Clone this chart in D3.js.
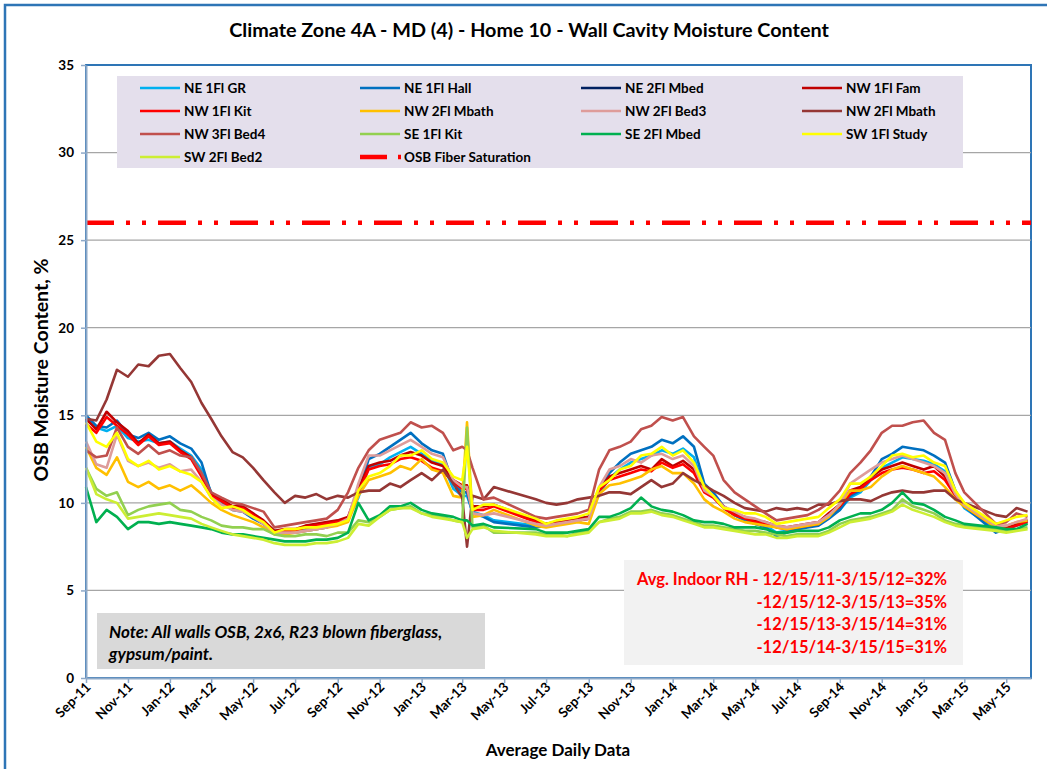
<!DOCTYPE html>
<html>
<head>
<meta charset="utf-8">
<script src="https://cdn.jsdelivr.net/npm/d3@7"></script>
<style>
  body { margin: 0; background: #fff; }
  svg text { font-family: Lato, "Open Sans", sans-serif; font-weight: bold; }
</style>
</head>
<body>
<div id="chart"></div>
<script>

// reading dates (about every half month, logger gaps spring 2013 and spring 2015)
var dates = [
  "2011-09-01","2011-09-16","2011-10-01","2011-10-16","2011-11-01","2011-11-16","2011-12-01","2011-12-16",
  "2012-01-01","2012-01-16","2012-02-01","2012-02-16","2012-03-01","2012-03-16","2012-04-01","2012-04-16",
  "2012-05-01","2012-05-16","2012-06-01","2012-06-16","2012-07-01","2012-07-16","2012-08-01","2012-08-16",
  "2012-09-01","2012-09-16","2012-10-01","2012-10-16","2012-11-01","2012-11-16","2012-12-01","2012-12-16",
  "2013-01-01","2013-01-16","2013-02-01","2013-02-16","2013-03-01","2013-03-08","2013-03-16","2013-04-01","2013-04-16",
  "2013-06-16","2013-07-01","2013-07-16","2013-08-01","2013-08-16",
  "2013-09-01","2013-09-16","2013-10-01","2013-10-16","2013-11-01","2013-11-16","2013-12-01","2013-12-16",
  "2014-01-01","2014-01-16","2014-02-01","2014-02-16","2014-03-01","2014-03-16","2014-04-01","2014-04-16",
  "2014-05-01","2014-05-16","2014-06-01","2014-06-16","2014-07-01","2014-07-16","2014-08-01","2014-08-16",
  "2014-09-01","2014-09-16","2014-10-01","2014-10-16","2014-11-01","2014-11-16","2014-12-01","2014-12-16",
  "2015-01-01","2015-01-16","2015-02-01","2015-02-16","2015-03-01",
  "2015-04-16","2015-05-01","2015-05-16","2015-06-01"
];

// moisture content, %
var ne1flGR = [
  14.9,14.3,14.1,14.4,13.7,13.5,13.6,13.4,13.5,13.1,12.7,11.9,10.6,10.1,9.7,9.6,9.2,8.9,8.4,8.4,8.4,8.5,8.6,8.7,8.9,9.1,10.3,
  12.0,12.2,12.6,12.9,13.2,12.8,12.4,12.2,10.8,10.4,10.4,9.5,9.3,9.0,
  8.7,8.8,8.9,9.0,9.1,9.2,10.5,11.4,11.9,12.3,
  12.5,12.7,13.0,12.8,13.1,12.6,10.8,10.4,9.7,9.3,
  9.0,8.8,8.7,8.3,8.4,8.6,8.7,8.8,9.2,9.6,
  10.3,10.6,11.3,12.0,12.3,12.6,12.5,12.4,12.2,11.8,10.5,9.7,
  8.5,8.6,8.8,9.0];
var ne1flHall = [
  15.0,14.4,14.3,14.7,13.9,13.7,14.0,13.6,13.8,13.4,13.1,12.3,10.5,10.0,9.6,9.5,9.1,8.8,8.3,8.3,8.3,8.4,8.5,8.6,8.8,9.0,10.6,
  12.5,12.8,13.2,13.6,14.0,13.4,13.0,12.8,11.1,10.6,10.6,9.4,9.2,8.9,
  8.6,8.7,8.8,8.9,9.0,9.1,10.6,11.7,12.3,12.8,
  13.0,13.2,13.6,13.4,13.8,13.2,11.1,10.6,9.8,9.3,
  9.0,8.8,8.6,8.1,8.3,8.5,8.6,8.7,9.1,9.6,
  10.4,10.7,11.5,12.5,12.8,13.2,13.1,13.0,12.7,12.3,10.7,9.8,
  8.3,8.5,8.7,8.9];
var ne2flMbed = []; // listed in the legend, no trace visible
var nw1flFam = [
  14.8,14.2,15.2,14.6,14.1,13.4,13.9,13.4,13.5,13.0,12.6,11.6,10.5,10.2,9.8,9.8,9.4,9.0,8.4,8.5,8.5,8.7,8.8,8.9,9.0,9.2,10.8,
  12.1,12.3,12.4,12.7,12.9,12.7,12.3,12.1,11.3,11.0,11.0,9.8,9.8,9.9,
  9.0,8.8,8.9,9.0,9.1,9.2,10.8,11.5,11.7,11.9,
  12.1,11.9,12.5,12.1,12.4,11.9,10.7,10.4,9.8,9.4,
  9.2,9.0,8.9,8.7,8.6,8.7,8.8,8.9,9.4,9.9,
  10.7,10.9,11.5,11.9,12.1,12.3,12.1,11.9,12.1,11.5,10.5,9.9,
  8.7,8.6,8.8,9.0];
var nw1flKit = [
  14.5,14.0,14.9,14.4,13.9,13.3,13.8,13.3,13.4,12.9,12.5,11.5,10.4,10.1,9.7,9.7,9.3,8.9,8.3,8.4,8.4,8.6,8.7,8.8,8.9,9.1,10.6,
  11.9,12.1,12.2,12.5,12.6,12.4,12.0,11.8,11.2,10.8,10.8,9.6,9.6,9.8,
  8.9,8.7,8.8,8.9,9.0,9.1,10.7,11.3,11.5,11.7,
  11.9,11.8,12.3,12.0,12.2,11.7,10.6,10.3,9.7,9.3,
  9.1,8.9,8.8,8.6,8.5,8.6,8.7,8.8,9.3,9.8,
  10.5,10.8,11.3,11.7,11.9,12.0,11.9,11.7,11.8,11.3,10.4,9.8,
  8.6,8.5,8.7,8.9];
var nw2flMbathA = [
  13.2,12.0,11.6,12.6,11.2,10.9,11.2,10.8,11.0,10.7,11.0,10.5,10.0,9.6,9.3,9.1,8.9,8.6,8.2,8.2,8.3,8.4,8.5,8.6,8.7,8.9,10.4,
  11.3,11.5,11.7,12.1,11.9,12.5,11.9,11.7,10.4,10.3,14.6,9.2,9.3,9.6,
  8.7,8.6,8.7,8.8,8.9,8.8,10.5,11.0,11.1,11.3,
  11.5,11.9,12.1,11.7,11.7,11.1,10.2,9.8,9.5,9.1,
  8.9,8.8,8.7,8.6,8.5,8.6,8.7,8.8,9.2,9.9,
  10.7,10.7,10.9,11.5,11.9,12.1,11.9,11.7,11.5,10.9,10.2,9.8,
  8.6,8.7,8.9,9.0];
var nw2flBed3 = [
  13.5,12.2,12.0,13.9,12.4,12.1,12.3,12.0,12.2,11.8,11.9,11.2,10.3,9.9,9.6,9.5,9.2,8.8,8.3,8.3,8.3,8.4,8.5,8.6,8.8,9.1,11.1,
  12.7,12.7,13.0,13.3,13.6,13.2,12.8,12.6,11.3,10.9,10.9,9.4,9.3,9.4,
  8.8,8.7,8.8,8.9,9.0,9.1,10.9,11.9,12.1,12.5,
  12.3,12.7,12.8,12.5,12.7,12.1,10.7,10.4,9.8,9.5,
  9.2,9.1,8.9,8.7,8.6,8.7,8.8,8.9,9.3,9.9,
  11.1,11.5,11.9,12.3,12.5,12.7,12.5,12.3,12.1,11.7,10.5,9.9,
  8.7,8.7,8.9,9.1];
var nw2flMbathB = [
  14.8,14.7,15.9,17.6,17.2,17.9,17.8,18.4,18.5,17.7,16.9,15.7,14.8,13.8,12.9,12.6,12.0,11.3,10.6,10.0,10.4,10.3,10.5,10.2,10.4,10.3,10.6,
  10.7,10.7,11.1,10.9,11.3,11.7,11.3,11.9,11.1,10.3,7.5,10.4,10.2,10.9,
  10.2,10.0,9.9,10.0,10.2,10.3,10.4,10.6,10.6,10.5,
  10.9,11.3,10.9,11.1,11.7,11.3,11.0,10.7,10.4,10.0,
  9.7,9.6,9.5,9.7,9.6,9.7,9.6,9.9,9.9,10.1,
  10.2,10.2,10.1,10.4,10.6,10.7,10.6,10.6,10.7,10.7,10.2,10.0,
  9.3,9.2,9.7,9.5];
var nw3flBed4 = [
  13.0,12.6,12.7,14.3,13.2,12.8,13.3,12.8,13.0,12.7,12.6,11.7,10.6,10.3,10.0,9.9,9.7,9.5,8.6,8.7,8.8,8.9,9.0,9.1,9.6,10.6,12.0,
  13.0,13.6,13.8,14.0,14.6,14.3,14.4,14.0,13.0,13.2,13.0,12.0,10.2,10.3,
  9.2,9.1,9.2,9.3,9.4,9.6,11.9,13.0,13.2,13.5,
  14.2,14.4,14.9,14.7,14.9,13.8,13.2,12.7,11.3,10.6,
  10.2,9.8,9.4,9.0,9.1,9.2,9.3,9.6,10.0,10.7,
  11.7,12.3,13.0,14.0,14.4,14.4,14.6,14.7,14.0,13.6,11.7,10.6,
  8.8,8.9,9.4,9.2];
var se1flKit = [
  12.0,10.8,10.4,10.6,9.3,9.6,9.8,9.9,10.0,9.6,9.5,9.2,9.0,8.7,8.6,8.6,8.5,8.5,8.2,8.1,8.1,8.2,8.2,8.1,8.3,8.3,9.0,
  8.9,9.2,9.6,9.7,9.8,9.4,9.3,9.2,9.0,8.9,14.3,8.6,8.7,8.3,
  8.3,8.2,8.2,8.1,8.3,8.4,8.9,9.1,9.2,9.5,
  9.5,9.6,9.4,9.3,9.1,8.9,8.7,8.7,8.6,8.5,
  8.4,8.4,8.3,8.2,8.1,8.2,8.2,8.2,8.4,8.8,
  9.0,9.1,9.2,9.4,9.6,10.2,9.8,9.6,9.4,9.0,8.8,8.7,
  8.5,8.4,8.5,8.6];
var se2flMbed = [
  10.9,8.9,9.6,9.2,8.5,8.9,8.9,8.8,8.9,8.8,8.7,8.6,8.5,8.3,8.2,8.2,8.1,8.0,7.9,7.8,7.8,7.8,7.9,7.9,8.0,8.3,10.0,
  9.0,9.3,9.8,9.8,10.0,9.6,9.4,9.3,9.2,9.0,9.0,8.7,8.8,8.6,
  8.5,8.3,8.3,8.3,8.4,8.5,9.2,9.2,9.4,9.7,
  10.3,9.8,9.6,9.5,9.3,9.0,8.9,8.9,8.8,8.6,
  8.6,8.6,8.5,8.3,8.3,8.4,8.4,8.4,8.6,9.0,
  9.2,9.4,9.4,9.6,10.0,10.6,10.0,9.9,9.6,9.2,9.0,8.8,
  8.6,8.5,8.5,8.8];
var sw1flStudy = [
  14.6,13.5,13.2,14.0,12.5,12.1,12.4,11.9,12.1,11.8,11.6,11.2,10.3,9.7,9.8,9.6,9.2,8.9,8.3,8.5,8.5,8.6,8.6,8.7,8.8,9.0,10.7,
  11.5,11.7,12.1,12.7,12.7,13.0,12.5,12.3,11.5,11.3,13.2,9.6,9.9,9.9,
  9.1,8.8,9.0,9.1,9.2,9.4,10.9,11.3,11.9,12.1,
  12.7,12.8,13.2,12.7,13.0,12.3,10.9,10.4,9.7,9.6,
  9.4,9.4,9.2,8.8,8.9,9.0,9.1,9.2,9.7,10.2,
  11.1,11.1,11.5,12.1,12.7,12.8,12.6,12.7,12.3,12.1,10.7,10.0,
  8.8,9.0,9.2,9.3];
var sw2flBed2 = [
  12.0,10.5,10.2,10.0,9.1,9.2,9.3,9.4,9.3,9.2,9.1,8.8,8.6,8.4,8.2,8.1,8.0,7.9,7.7,7.6,7.6,7.6,7.7,7.7,7.8,8.0,8.8,
  8.7,9.2,9.6,9.7,9.7,9.4,9.2,9.1,9.0,8.9,8.0,8.5,8.6,8.4,
  8.2,8.1,8.1,8.1,8.2,8.3,8.9,9.0,9.1,9.4,
  9.4,9.5,9.3,9.2,9.0,8.8,8.6,8.6,8.5,8.4,
  8.3,8.2,8.2,8.0,8.0,8.1,8.1,8.1,8.3,8.6,
  8.9,9.0,9.1,9.3,9.5,9.9,9.6,9.4,9.2,8.9,8.7,8.6,
  8.4,8.3,8.4,8.5];

var seriesNames = ["NE 1Fl GR","NE 1Fl Hall","NE 2Fl Mbed","NW 1Fl Fam","NW 1Fl Kit","NW 2Fl Mbath",
  "NW 2Fl Bed3","NW 2Fl Mbath","NW 3Fl Bed4","SE 1Fl Kit","SE 2Fl Mbed","SW 1Fl Study","SW 2Fl Bed2"];
var seriesValues = [ne1flGR, ne1flHall, ne2flMbed, nw1flFam, nw1flKit, nw2flMbathA,
  nw2flBed3, nw2flMbathB, nw3flBed4, se1flKit, se2flMbed, sw1flStudy, sw2flBed2];
var seriesColors = ["#00B0F0","#0070C0","#002060","#C00000","#FF0000","#FFC000",
  "#DE9C9A","#953735","#C0504D","#92D050","#00B050","#FFFF00","#CCEE33"];

var fiberSatName = "OSB Fiber Saturation";
var fiberSat = 26;
var yTicks = [0, 5, 10, 15, 20, 25, 30, 35];
var xStart = "2011-09-01", xEnd = "2015-06-06";

var title = "Climate Zone 4A - MD (4) - Home 10 - Wall Cavity Moisture Content";
var yTitle = "OSB Moisture Content, %";
var xTitle = "Average Daily Data";
var noteLines = ["Note: All walls OSB, 2x6, R23 blown fiberglass,", "gypsum/paint."];
var rhLines = ["Avg. Indoor RH - 12/15/11-3/15/12=32%", "-12/15/12-3/15/13=35%",
  "-12/15/13-3/15/14=31%", "-12/15/14-3/15/15=31%"];

// chart size
var W = 1047, H = 769;
var margin = {top: 65, right: 16, bottom: 91, left: 86},
  width = W - margin.left - margin.right,
  height = H - margin.top - margin.bottom;

var parse = d3.timeParse("%Y-%m-%d");

var root = d3.select("#chart").append("svg")
  .attr("width", W).attr("height", H);

// outer chart border
root.append("rect")
  .attr("x", 5).attr("y", 5).attr("width", W + 40).attr("height", H + 40)
  .attr("fill", "#fff").attr("stroke", "#2E75B6").attr("stroke-width", 2.5);

var svg = root.append("g")
  .attr("transform", "translate(" + margin.left + "," + margin.top + ")");

var x = d3.scaleTime()
  .domain([parse(xStart), parse(xEnd)])
  .range([0, width]);

var y = d3.scaleLinear()
  .domain([0, 35])
  .range([height, 0]);

// plot area border
svg.append("rect")
  .attr("width", width).attr("height", height)
  .attr("fill", "none").attr("stroke", "#2E75B6").attr("stroke-width", 2);

// gridlines
svg.append("g")
  .selectAll("line")
  .data(yTicks.filter(function(d){ return d > 0 && d < 35; }))
  .join("line")
    .attr("x1", 0).attr("x2", width)
    .attr("y1", function(d){ return y(d); }).attr("y2", function(d){ return y(d); })
    .attr("stroke", "#A6A6A6").attr("stroke-width", 1.2);

// fiber saturation line
var dashes = "28,12,4,12,4,12";
svg.append("line")
  .attr("x1", x(parse(xStart))).attr("x2", x(parse(xEnd)))
  .attr("y1", y(fiberSat)).attr("y2", y(fiberSat))
  .attr("stroke", "#FF0000").attr("stroke-width", 4.5)
  .attr("stroke-dasharray", dashes);

// the series
var line = d3.line()
  .x(function(d){ return x(d.date); })
  .y(function(d){ return y(d.v); });

svg.append("g")
  .selectAll("path")
  .data(seriesValues.map(function(vals, i){
    return { name: seriesNames[i], color: seriesColors[i],
      pts: vals.map(function(v, j){ return {date: parse(dates[j]), v: v}; }) };
  }))
  .join("path")
    .attr("fill", "none")
    .attr("stroke", function(d){ return d.color; })
    .attr("stroke-width", 2.6)
    .attr("stroke-linejoin", "round")
    .attr("d", function(d){ return d.pts.length ? line(d.pts) : null; });

// x axis
var xAxis = svg.append("g")
  .attr("transform", "translate(0," + height + ")")
  .call(d3.axisBottom(x)
    .ticks(d3.timeMonth.every(2))
    .tickFormat(d3.timeFormat("%b-%y"))
    .tickSize(5).tickSizeOuter(0));
xAxis.select(".domain").attr("stroke", "#8EA9C8").attr("stroke-width", 2);
xAxis.selectAll(".tick line").attr("stroke", "#8EA9C8").attr("stroke-width", 1.5);
xAxis.selectAll("text")
  .attr("x", 0).attr("y", 0).attr("dy", 0)
  .attr("transform", "translate(5,10) rotate(-45)")
  .style("text-anchor", "end")
  .style("font-size", "13.5px")
  .attr("fill", "#000");

// y axis
var yAxis = svg.append("g")
  .call(d3.axisLeft(y).tickValues(yTicks).tickSize(5).tickSizeOuter(0));
yAxis.select(".domain").attr("stroke", "#8EA9C8").attr("stroke-width", 2);
yAxis.selectAll(".tick line").attr("stroke", "#8EA9C8").attr("stroke-width", 1.5);
yAxis.selectAll("text")
  .attr("x", -12)
  .style("font-size", "13.5px")
  .attr("fill", "#000");

// legend
var legend = root.append("g");
legend.append("rect")
  .attr("x", 117).attr("y", 76).attr("width", 846).attr("height", 92)
  .attr("fill", "#E4DFEC");

var legendItems = seriesNames.map(function(n, i){ return {name: n, color: seriesColors[i], fiber: false}; });
legendItems.push({name: fiberSatName, color: "#FF0000", fiber: true});
var colX = [140, 360, 581, 802], rowY = [88, 111, 134, 157];

var li = legend.selectAll("g.item")
  .data(legendItems)
  .join("g")
    .attr("class", "item")
    .attr("transform", function(d, i){ return "translate(" + colX[i % 4] + "," + rowY[Math.floor(i / 4)] + ")"; });
li.append("line")
  .attr("x1", 0).attr("x2", function(d){ return d.fiber ? 41 : 40; })
  .attr("y1", 0).attr("y2", 0)
  .attr("stroke", function(d){ return d.color; })
  .attr("stroke-width", function(d){ return d.fiber ? 4.5 : 2.6; })
  .attr("stroke-dasharray", function(d){ return d.fiber ? "27,11,3" : null; });
li.append("text")
  .attr("x", 44).attr("dy", "0.35em")
  .style("font-size", "13.5px")
  .text(function(d){ return d.name; });

// note box
root.append("rect")
  .attr("x", 97).attr("y", 613).attr("width", 388).attr("height", 56)
  .attr("fill", "#D9D9D9");
root.append("g").selectAll("text")
  .data(noteLines)
  .join("text")
    .attr("x", 109).attr("y", function(d, i){ return 638 + i * 22; })
    .style("font-size", "17px").style("font-style", "italic")
    .text(function(d){ return d; });

// RH box
root.append("rect")
  .attr("x", 624).attr("y", 560).attr("width", 339).attr("height", 105)
  .attr("fill", "#F2F2F2");
root.append("g").selectAll("text")
  .data(rhLines)
  .join("text")
    .attr("x", 947).attr("y", function(d, i){ return 585 + i * 22.7; })
    .attr("text-anchor", "end")
    .attr("fill", "#FF0000")
    .style("font-size", "16.5px")
    .text(function(d){ return d; });

// titles
root.append("text")
  .attr("x", 529).attr("y", 37)
  .attr("text-anchor", "middle")
  .style("font-size", "19.8px")
  .text(title);

root.append("text")
  .attr("transform", "translate(41,370) rotate(-90)")
  .attr("text-anchor", "middle").attr("dy", "0.35em")
  .style("font-size", "19.5px")
  .text(yTitle);

root.append("text")
  .attr("x", 558).attr("y", 756)
  .attr("text-anchor", "middle")
  .style("font-size", "17px")
  .text(xTitle);

</script>
</body>
</html>
